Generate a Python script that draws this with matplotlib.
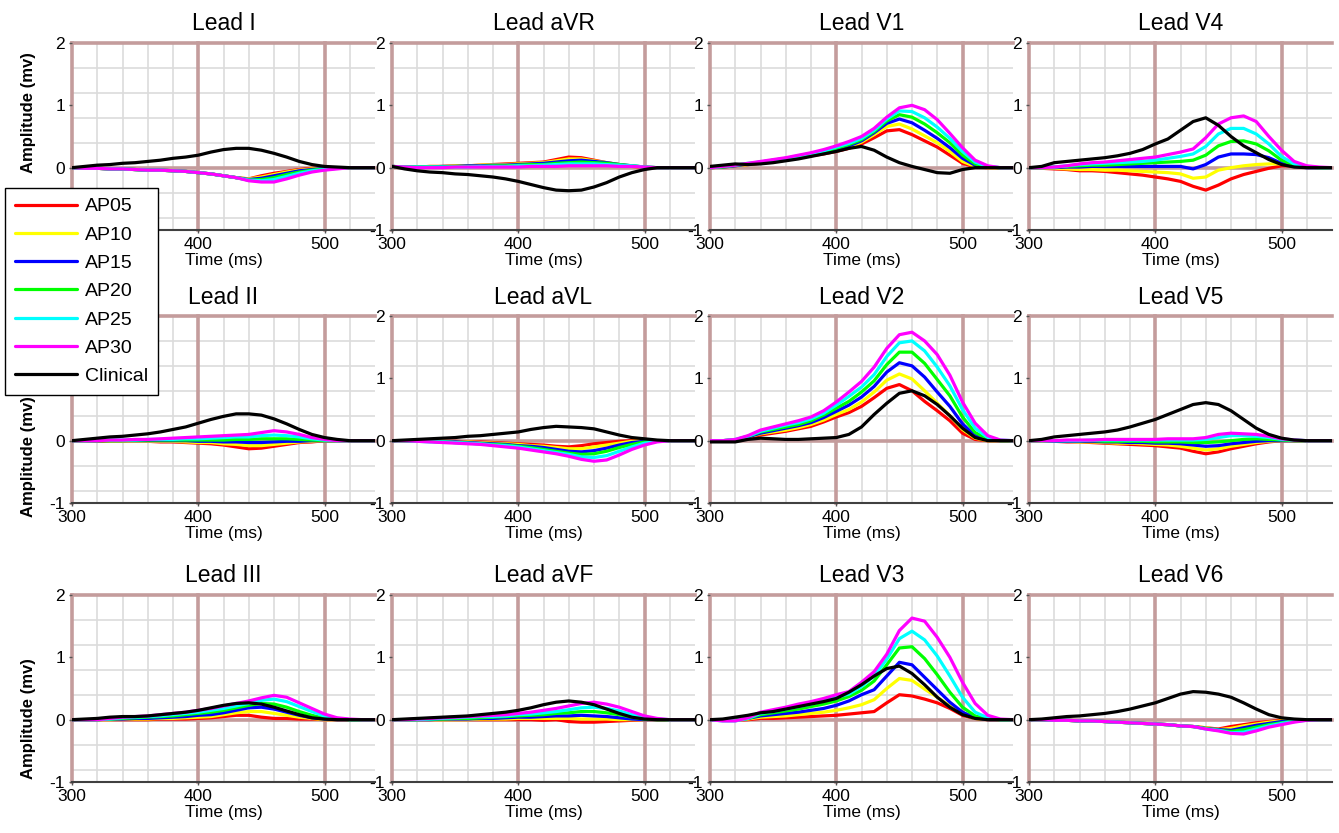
import matplotlib.pyplot as plt

plt.rcParams["font.family"] = ["Liberation Sans", "DejaVu Sans"]
plt.rcParams["axes.unicode_minus"] = False

# sample times (ms)
time_ms = [300, 310, 320, 330, 340, 350, 360, 370, 380, 390, 400, 410, 420,
           430, 440, 450, 460, 470, 480, 490, 500, 510, 520, 530, 540]

series = ["AP05", "AP10", "AP15", "AP20", "AP25", "AP30", "Clinical"]
colors = ["#ff0000", "#ffff00", "#0000ff", "#00ff00", "#00ffff", "#ff00ff", "#000000"]

# amplitudes (mV), one row per series in the order of `series`
lead_I = [
    [0, -0.01, -0.01, -0.02, -0.02, -0.03, -0.04, -0.04, -0.05, -0.06, -0.08, -0.1, -0.13, -0.16, -0.18, -0.13, -0.09, -0.06, -0.03, -0.01, 0, 0, 0, 0, 0],
    [0, -0.01, -0.01, -0.02, -0.02, -0.03, -0.04, -0.04, -0.05, -0.06, -0.08, -0.1, -0.13, -0.16, -0.18, -0.15, -0.11, -0.07, -0.04, -0.02, -0.01, 0, 0, 0, 0],
    [0, -0.01, -0.01, -0.02, -0.02, -0.03, -0.04, -0.04, -0.05, -0.06, -0.08, -0.1, -0.13, -0.16, -0.19, -0.17, -0.13, -0.09, -0.05, -0.03, -0.01, 0, 0, 0, 0],
    [0, -0.01, -0.01, -0.02, -0.02, -0.03, -0.04, -0.04, -0.05, -0.06, -0.08, -0.1, -0.13, -0.16, -0.2, -0.19, -0.16, -0.11, -0.07, -0.04, -0.02, -0.01, 0, 0, 0],
    [0, -0.01, -0.01, -0.02, -0.02, -0.03, -0.04, -0.04, -0.05, -0.06, -0.08, -0.1, -0.13, -0.16, -0.2, -0.21, -0.19, -0.14, -0.09, -0.05, -0.03, -0.01, 0, 0, 0],
    [0, -0.01, -0.01, -0.02, -0.02, -0.03, -0.04, -0.04, -0.05, -0.06, -0.08, -0.1, -0.13, -0.16, -0.21, -0.23, -0.23, -0.18, -0.12, -0.07, -0.04, -0.02, 0, 0, 0],
    [0, 0.02, 0.04, 0.05, 0.07, 0.08, 0.1, 0.12, 0.15, 0.17, 0.2, 0.25, 0.29, 0.31, 0.31, 0.28, 0.23, 0.17, 0.1, 0.05, 0.02, 0.01, 0, 0, 0],
]
lead_aVR = [
    [0.02, 0.01, 0.01, 0.02, 0.02, 0.03, 0.03, 0.04, 0.05, 0.06, 0.07, 0.08, 0.09, 0.13, 0.17, 0.16, 0.12, 0.08, 0.05, 0.02, 0, 0, 0, 0, 0],
    [0.02, 0.01, 0.01, 0.02, 0.02, 0.03, 0.03, 0.04, 0.05, 0.05, 0.06, 0.07, 0.08, 0.11, 0.14, 0.14, 0.11, 0.08, 0.05, 0.02, 0.01, 0, 0, 0, 0],
    [0.02, 0.01, 0.01, 0.01, 0.02, 0.02, 0.03, 0.03, 0.04, 0.04, 0.05, 0.06, 0.07, 0.09, 0.11, 0.12, 0.1, 0.08, 0.05, 0.03, 0.01, 0, 0, 0, 0],
    [0.02, 0.01, 0.01, 0.01, 0.01, 0.02, 0.02, 0.02, 0.03, 0.03, 0.04, 0.05, 0.05, 0.07, 0.08, 0.09, 0.08, 0.07, 0.05, 0.03, 0.01, 0, 0, 0, 0],
    [0.02, 0.01, 0.01, 0.01, 0.01, 0.01, 0.01, 0.02, 0.02, 0.02, 0.03, 0.03, 0.04, 0.05, 0.06, 0.06, 0.06, 0.05, 0.04, 0.03, 0.01, 0, 0, 0, 0],
    [0.02, 0.01, 0, 0, 0, 0.01, 0.01, 0.01, 0.01, 0.01, 0.01, 0.02, 0.02, 0.02, 0.03, 0.03, 0.03, 0.03, 0.02, 0.02, 0.01, 0, 0, 0, 0],
    [0.02, -0.02, -0.05, -0.07, -0.08, -0.1, -0.11, -0.13, -0.15, -0.18, -0.22, -0.27, -0.32, -0.36, -0.37, -0.36, -0.31, -0.24, -0.15, -0.08, -0.03, 0, 0, 0, 0],
]
lead_V1 = [
    [0, 0.01, 0.03, 0.05, 0.07, 0.1, 0.13, 0.16, 0.19, 0.22, 0.26, 0.31, 0.38, 0.48, 0.59, 0.61, 0.53, 0.43, 0.33, 0.2, 0.07, 0.01, 0, 0, 0],
    [0, 0.01, 0.03, 0.05, 0.08, 0.1, 0.13, 0.16, 0.2, 0.23, 0.27, 0.33, 0.41, 0.53, 0.66, 0.7, 0.62, 0.51, 0.4, 0.26, 0.1, 0.02, 0, 0, 0],
    [0, 0.01, 0.03, 0.06, 0.08, 0.11, 0.14, 0.17, 0.21, 0.25, 0.29, 0.35, 0.43, 0.56, 0.71, 0.78, 0.72, 0.6, 0.47, 0.32, 0.15, 0.04, 0.01, 0, 0],
    [0, 0.01, 0.04, 0.06, 0.09, 0.12, 0.15, 0.18, 0.22, 0.26, 0.31, 0.37, 0.45, 0.58, 0.75, 0.85, 0.81, 0.7, 0.56, 0.4, 0.2, 0.06, 0.01, 0, 0],
    [0, 0.02, 0.04, 0.07, 0.09, 0.12, 0.15, 0.19, 0.23, 0.27, 0.33, 0.39, 0.47, 0.6, 0.78, 0.91, 0.9, 0.8, 0.65, 0.47, 0.26, 0.09, 0.02, 0, 0],
    [0, 0.02, 0.04, 0.07, 0.1, 0.13, 0.16, 0.2, 0.24, 0.29, 0.35, 0.42, 0.5, 0.63, 0.81, 0.96, 1.0, 0.93, 0.77, 0.55, 0.32, 0.12, 0.03, 0, 0],
    [0.02, 0.04, 0.06, 0.05, 0.06, 0.08, 0.11, 0.14, 0.18, 0.22, 0.26, 0.31, 0.34, 0.28, 0.17, 0.08, 0.02, -0.03, -0.08, -0.09, -0.03, 0, 0, 0, 0],
]
lead_V4 = [
    [0, -0.01, -0.02, -0.03, -0.05, -0.05, -0.06, -0.08, -0.1, -0.12, -0.15, -0.18, -0.22, -0.3, -0.36, -0.28, -0.18, -0.11, -0.06, -0.01, 0.03, 0.03, 0.01, 0, 0],
    [0, -0.01, -0.01, -0.02, -0.03, -0.03, -0.04, -0.04, -0.05, -0.06, -0.07, -0.08, -0.1, -0.17, -0.15, -0.04, 0, 0.03, 0.05, 0.06, 0.06, 0.03, 0.01, 0, 0],
    [0, 0, 0, 0.01, 0.01, 0.02, 0.02, 0.02, 0.02, 0.02, 0.02, 0.02, 0.02, -0.02, 0.05, 0.17, 0.22, 0.22, 0.21, 0.16, 0.07, 0.02, 0, 0, 0],
    [0, 0, 0.01, 0.02, 0.03, 0.04, 0.04, 0.05, 0.06, 0.07, 0.08, 0.09, 0.1, 0.12, 0.2, 0.35, 0.42, 0.43, 0.38, 0.27, 0.12, 0.04, 0.01, 0, 0],
    [0, 0, 0.01, 0.03, 0.05, 0.06, 0.07, 0.08, 0.09, 0.1, 0.12, 0.15, 0.18, 0.22, 0.34, 0.54, 0.63, 0.63, 0.54, 0.38, 0.18, 0.06, 0.01, 0, 0],
    [0, 0, 0.01, 0.03, 0.06, 0.08, 0.09, 0.11, 0.13, 0.15, 0.17, 0.21, 0.25, 0.3, 0.48, 0.7, 0.8, 0.83, 0.74, 0.5, 0.28, 0.1, 0.03, 0.01, 0],
    [0, 0.02, 0.08, 0.1, 0.12, 0.14, 0.16, 0.19, 0.23, 0.29, 0.38, 0.46, 0.6, 0.74, 0.8, 0.68, 0.5, 0.35, 0.24, 0.13, 0.05, 0.01, 0, 0, 0],
]
lead_II = [
    [0, 0, -0.01, -0.01, -0.01, -0.01, -0.01, -0.02, -0.02, -0.03, -0.04, -0.05, -0.07, -0.1, -0.13, -0.12, -0.09, -0.06, -0.03, -0.02, 0, 0, 0, 0, 0],
    [0, 0, 0, -0.01, -0.01, -0.01, -0.01, -0.01, -0.01, -0.02, -0.03, -0.03, -0.05, -0.06, -0.08, -0.08, -0.06, -0.04, -0.02, -0.01, 0, 0, 0, 0, 0],
    [0, 0, 0, 0, 0, 0, 0, 0, 0, 0, -0.01, -0.01, -0.02, -0.02, -0.03, -0.03, -0.02, -0.01, -0.01, 0, 0, 0, 0, 0, 0],
    [0, 0, 0, 0, 0, 0.01, 0.01, 0.01, 0.01, 0.01, 0.01, 0.01, 0.01, 0.02, 0.02, 0.03, 0.03, 0.03, 0.02, 0.01, 0, 0, 0, 0, 0],
    [0, 0, 0, 0.01, 0.01, 0.01, 0.02, 0.02, 0.02, 0.03, 0.03, 0.04, 0.05, 0.06, 0.06, 0.08, 0.09, 0.08, 0.06, 0.03, 0.01, 0, 0, 0, 0],
    [0, 0, 0, 0.01, 0.01, 0.02, 0.02, 0.03, 0.04, 0.05, 0.06, 0.07, 0.08, 0.09, 0.1, 0.13, 0.16, 0.14, 0.1, 0.05, 0.02, 0, 0, 0, 0],
    [0, 0.02, 0.04, 0.06, 0.07, 0.09, 0.11, 0.14, 0.18, 0.22, 0.28, 0.34, 0.39, 0.43, 0.43, 0.41, 0.35, 0.27, 0.18, 0.1, 0.05, 0.02, 0, 0, 0],
]
lead_aVL = [
    [0, 0, 0, -0.01, -0.01, -0.01, -0.02, -0.02, -0.03, -0.04, -0.05, -0.06, -0.07, -0.09, -0.1, -0.08, -0.05, -0.03, -0.01, 0, 0, 0, 0, 0, 0],
    [0, 0, -0.01, -0.01, -0.01, -0.02, -0.02, -0.03, -0.04, -0.05, -0.06, -0.08, -0.09, -0.11, -0.13, -0.13, -0.1, -0.07, -0.04, -0.01, 0, 0, 0, 0, 0],
    [0, 0, -0.01, -0.01, -0.02, -0.02, -0.03, -0.04, -0.05, -0.06, -0.08, -0.09, -0.11, -0.14, -0.17, -0.18, -0.16, -0.12, -0.07, -0.03, -0.01, 0, 0, 0, 0],
    [0, 0, -0.01, -0.01, -0.02, -0.03, -0.04, -0.05, -0.06, -0.07, -0.09, -0.11, -0.14, -0.17, -0.2, -0.22, -0.21, -0.17, -0.11, -0.06, -0.02, 0, 0, 0, 0],
    [0, 0, -0.01, -0.02, -0.02, -0.03, -0.04, -0.05, -0.07, -0.08, -0.1, -0.13, -0.16, -0.19, -0.22, -0.26, -0.27, -0.24, -0.17, -0.1, -0.04, -0.01, 0, 0, 0],
    [0, 0, -0.01, -0.02, -0.03, -0.04, -0.05, -0.06, -0.08, -0.1, -0.12, -0.15, -0.18, -0.21, -0.25, -0.3, -0.33, -0.31, -0.23, -0.14, -0.07, -0.02, 0, 0, 0],
    [0, 0.01, 0.02, 0.03, 0.04, 0.05, 0.07, 0.08, 0.1, 0.12, 0.14, 0.18, 0.21, 0.23, 0.22, 0.21, 0.19, 0.14, 0.09, 0.05, 0.03, 0.01, 0, 0, 0],
]
lead_V2 = [
    [0, 0, 0.01, 0.05, 0.09, 0.12, 0.15, 0.19, 0.23, 0.3, 0.38, 0.45, 0.55, 0.69, 0.84, 0.9, 0.8, 0.63, 0.48, 0.32, 0.12, 0.02, 0, 0, 0],
    [0, 0, 0.01, 0.06, 0.11, 0.14, 0.17, 0.21, 0.26, 0.33, 0.42, 0.5, 0.62, 0.78, 0.97, 1.07, 0.99, 0.8, 0.6, 0.4, 0.18, 0.04, 0, 0, 0],
    [0, 0, 0.01, 0.06, 0.12, 0.16, 0.2, 0.24, 0.29, 0.37, 0.47, 0.57, 0.7, 0.87, 1.1, 1.25, 1.2, 1.02, 0.78, 0.55, 0.27, 0.08, 0.01, 0, 0],
    [0, 0, 0.01, 0.07, 0.14, 0.18, 0.22, 0.26, 0.32, 0.41, 0.52, 0.63, 0.78, 0.96, 1.22, 1.42, 1.42, 1.24, 0.98, 0.72, 0.38, 0.13, 0.03, 0, 0],
    [0, 0, 0.02, 0.07, 0.15, 0.2, 0.25, 0.29, 0.35, 0.44, 0.57, 0.71, 0.86, 1.06, 1.35, 1.57, 1.6, 1.44, 1.18, 0.88, 0.5, 0.2, 0.05, 0.01, 0],
    [0, 0, 0.02, 0.08, 0.17, 0.22, 0.27, 0.32, 0.38, 0.48, 0.62, 0.78, 0.95, 1.18, 1.48, 1.7, 1.74, 1.6, 1.38, 1.05, 0.62, 0.28, 0.08, 0.01, 0],
    [-0.02, -0.02, -0.02, 0.02, 0.04, 0.03, 0.02, 0.02, 0.03, 0.04, 0.05, 0.1, 0.22, 0.42, 0.6, 0.76, 0.8, 0.72, 0.58, 0.4, 0.2, 0.05, 0, 0, 0],
]
lead_V5 = [
    [0, -0.01, -0.01, -0.02, -0.02, -0.03, -0.04, -0.05, -0.06, -0.07, -0.08, -0.1, -0.12, -0.17, -0.21, -0.18, -0.13, -0.09, -0.05, -0.02, 0, 0, 0, 0, 0],
    [0, -0.01, -0.01, -0.01, -0.02, -0.02, -0.03, -0.04, -0.04, -0.05, -0.06, -0.07, -0.09, -0.12, -0.15, -0.13, -0.09, -0.06, -0.03, -0.01, 0, 0, 0, 0, 0],
    [0, 0, -0.01, -0.01, -0.01, -0.01, -0.02, -0.02, -0.03, -0.03, -0.04, -0.04, -0.05, -0.07, -0.09, -0.08, -0.05, -0.03, -0.01, 0, 0, 0, 0, 0, 0],
    [0, 0, 0, 0, 0, 0, -0.01, -0.01, -0.01, -0.01, -0.02, -0.02, -0.02, -0.03, -0.03, -0.02, 0, 0.02, 0.03, 0.02, 0.01, 0, 0, 0, 0],
    [0, 0, 0, 0, 0, 0.01, 0.01, 0.01, 0.01, 0.01, 0.01, 0.01, 0.01, 0.01, 0.02, 0.05, 0.08, 0.08, 0.07, 0.05, 0.02, 0.01, 0, 0, 0],
    [0, 0, 0, 0.01, 0.01, 0.01, 0.02, 0.02, 0.02, 0.02, 0.02, 0.03, 0.03, 0.03, 0.05, 0.1, 0.12, 0.11, 0.1, 0.07, 0.03, 0.01, 0, 0, 0],
    [0, 0.02, 0.06, 0.08, 0.1, 0.12, 0.14, 0.17, 0.22, 0.28, 0.34, 0.42, 0.5, 0.58, 0.61, 0.58, 0.48, 0.34, 0.2, 0.1, 0.04, 0.01, 0, 0, 0],
]
lead_III = [
    [0, 0, 0, 0, 0, 0, 0, 0.01, 0.01, 0.01, 0.02, 0.03, 0.05, 0.07, 0.07, 0.04, 0.02, 0.02, 0.01, 0.01, 0, 0, 0, 0, 0],
    [0, 0, 0, 0, 0.01, 0.01, 0.01, 0.02, 0.02, 0.03, 0.04, 0.05, 0.08, 0.11, 0.13, 0.13, 0.1, 0.07, 0.04, 0.02, 0, 0, 0, 0, 0],
    [0, 0, 0, 0.01, 0.01, 0.02, 0.02, 0.03, 0.04, 0.05, 0.07, 0.08, 0.11, 0.15, 0.19, 0.2, 0.17, 0.12, 0.07, 0.03, 0.01, 0, 0, 0, 0],
    [0, 0, 0, 0.01, 0.02, 0.03, 0.04, 0.05, 0.06, 0.08, 0.1, 0.12, 0.15, 0.19, 0.23, 0.26, 0.25, 0.2, 0.13, 0.07, 0.02, 0.01, 0, 0, 0],
    [0, 0, 0, 0.01, 0.03, 0.04, 0.05, 0.06, 0.08, 0.1, 0.12, 0.15, 0.18, 0.22, 0.26, 0.31, 0.33, 0.29, 0.21, 0.13, 0.06, 0.02, 0, 0, 0],
    [0, 0, 0, 0.02, 0.04, 0.05, 0.06, 0.08, 0.1, 0.12, 0.15, 0.18, 0.22, 0.26, 0.3, 0.35, 0.39, 0.36, 0.27, 0.18, 0.09, 0.03, 0.01, 0, 0],
    [0, 0.01, 0.02, 0.04, 0.05, 0.05, 0.06, 0.08, 0.1, 0.12, 0.15, 0.19, 0.23, 0.26, 0.27, 0.25, 0.2, 0.14, 0.08, 0.03, 0.01, 0, 0, 0, 0],
]
lead_aVF = [
    [0, 0, 0, 0, 0, 0, 0, 0, 0, 0, 0, 0, -0.01, 0, -0.03, -0.04, -0.04, -0.03, -0.02, -0.01, 0, 0, 0, 0, 0],
    [0, 0, 0, 0, 0, 0, 0, 0.01, 0.01, 0.01, 0.02, 0.02, 0.02, 0.02, 0.02, 0.01, 0.01, 0.01, 0, 0, 0, 0, 0, 0, 0],
    [0, 0, 0, 0, 0.01, 0.01, 0.01, 0.02, 0.02, 0.03, 0.04, 0.04, 0.05, 0.06, 0.06, 0.07, 0.06, 0.05, 0.03, 0.01, 0, 0, 0, 0, 0],
    [0, 0, 0, 0.01, 0.01, 0.02, 0.02, 0.03, 0.04, 0.05, 0.06, 0.07, 0.08, 0.1, 0.11, 0.13, 0.13, 0.11, 0.08, 0.04, 0.01, 0, 0, 0, 0],
    [0, 0, 0, 0.01, 0.02, 0.03, 0.04, 0.05, 0.05, 0.06, 0.08, 0.09, 0.11, 0.13, 0.16, 0.19, 0.2, 0.18, 0.14, 0.08, 0.03, 0.01, 0, 0, 0],
    [0, 0, 0.01, 0.02, 0.03, 0.04, 0.05, 0.06, 0.07, 0.08, 0.1, 0.12, 0.15, 0.18, 0.22, 0.26, 0.28, 0.25, 0.2, 0.13, 0.06, 0.02, 0, 0, 0],
    [0, 0.01, 0.02, 0.03, 0.04, 0.05, 0.06, 0.08, 0.1, 0.12, 0.15, 0.19, 0.24, 0.28, 0.3, 0.28, 0.24, 0.17, 0.1, 0.04, 0.01, 0, 0, 0, 0],
]
lead_V3 = [
    [0, -0.01, -0.01, 0, 0.02, 0.02, 0.03, 0.04, 0.05, 0.06, 0.07, 0.09, 0.11, 0.13, 0.27, 0.4, 0.38, 0.33, 0.27, 0.18, 0.07, 0.02, 0, 0, 0],
    [0, -0.01, -0.01, 0.01, 0.04, 0.05, 0.06, 0.08, 0.1, 0.12, 0.15, 0.19, 0.24, 0.32, 0.5, 0.66, 0.63, 0.49, 0.36, 0.22, 0.09, 0.02, 0, 0, 0],
    [0, -0.01, -0.01, 0.02, 0.06, 0.08, 0.1, 0.12, 0.15, 0.18, 0.23, 0.3, 0.4, 0.48, 0.7, 0.92, 0.88, 0.68, 0.48, 0.28, 0.12, 0.03, 0, 0, 0],
    [0, -0.01, -0.01, 0.02, 0.08, 0.11, 0.14, 0.17, 0.21, 0.25, 0.3, 0.37, 0.47, 0.62, 0.88, 1.15, 1.17, 0.98, 0.72, 0.44, 0.2, 0.06, 0.01, 0, 0],
    [0, -0.02, -0.02, 0.02, 0.1, 0.13, 0.17, 0.21, 0.25, 0.3, 0.36, 0.41, 0.53, 0.7, 0.97, 1.3, 1.42, 1.28, 1.02, 0.7, 0.36, 0.12, 0.03, 0, 0],
    [0, -0.02, -0.02, 0.03, 0.12, 0.16, 0.2, 0.25, 0.29, 0.34, 0.4, 0.45, 0.6, 0.77, 1.05, 1.43, 1.63, 1.58, 1.32, 1.0, 0.6, 0.26, 0.07, 0.01, 0],
    [0, 0.01, 0.04, 0.07, 0.11, 0.13, 0.17, 0.21, 0.25, 0.29, 0.34, 0.44, 0.56, 0.7, 0.82, 0.86, 0.74, 0.56, 0.36, 0.2, 0.08, 0.02, 0, 0, 0],
]
lead_V6 = [
    [0, 0, -0.01, -0.01, -0.02, -0.02, -0.03, -0.04, -0.05, -0.06, -0.07, -0.08, -0.1, -0.11, -0.13, -0.15, -0.11, -0.08, -0.05, -0.03, -0.01, 0, 0, 0, 0],
    [0, 0, -0.01, -0.01, -0.02, -0.02, -0.03, -0.04, -0.05, -0.06, -0.07, -0.08, -0.1, -0.11, -0.13, -0.16, -0.14, -0.1, -0.07, -0.04, -0.02, 0, 0, 0, 0],
    [0, 0, -0.01, -0.01, -0.02, -0.02, -0.03, -0.04, -0.05, -0.06, -0.07, -0.08, -0.1, -0.11, -0.14, -0.16, -0.17, -0.13, -0.09, -0.06, -0.03, -0.01, 0, 0, 0],
    [0, 0, -0.01, -0.01, -0.02, -0.02, -0.03, -0.04, -0.05, -0.06, -0.07, -0.08, -0.1, -0.11, -0.14, -0.17, -0.19, -0.16, -0.12, -0.08, -0.05, -0.02, 0, 0, 0],
    [0, 0, -0.01, -0.01, -0.02, -0.02, -0.03, -0.04, -0.05, -0.06, -0.07, -0.08, -0.1, -0.11, -0.15, -0.17, -0.21, -0.2, -0.15, -0.1, -0.06, -0.03, -0.01, 0, 0],
    [0, 0, -0.01, -0.01, -0.02, -0.02, -0.03, -0.04, -0.05, -0.06, -0.07, -0.08, -0.1, -0.11, -0.15, -0.18, -0.22, -0.23, -0.18, -0.12, -0.08, -0.04, -0.01, 0, 0],
    [0, 0.01, 0.03, 0.05, 0.06, 0.08, 0.1, 0.13, 0.17, 0.22, 0.27, 0.34, 0.41, 0.45, 0.44, 0.41, 0.36, 0.27, 0.17, 0.08, 0.03, 0.01, 0, 0, 0],
]

titles = ["Lead I", "Lead aVR", "Lead V1", "Lead V4",
          "Lead II", "Lead aVL", "Lead V2", "Lead V5",
          "Lead III", "Lead aVF", "Lead V3", "Lead V6"]
lead_data = [lead_I, lead_aVR, lead_V1, lead_V4,
             lead_II, lead_aVL, lead_V2, lead_V5,
             lead_III, lead_aVF, lead_V3, lead_V6]

W, H = 1339, 833
fig = plt.figure(figsize=(W / 100, H / 100), dpi=100)

col_left = [72, 392, 710, 1029]
row_top = [43, 316, 595]
ax_w, ax_h = 303, 187
ylabel_y = [0.63, 0.25, 0.34]   # y-label centre per row (axes fraction)

major_col = "#c49c9c"
minor_col = "#dcdcdc"

handles = None
for k, (title, data) in enumerate(zip(titles, lead_data)):
    r, c = divmod(k, 4)
    ax = fig.add_axes([col_left[c] / W, 1 - (row_top[r] + ax_h) / H, ax_w / W, ax_h / H])

    # ECG style grid
    for x in range(320, 540, 20):
        if x not in (400, 500):
            ax.axvline(x, color=minor_col, lw=1.2, zorder=0)
    for y in [-0.8, -0.4, 0.4, 0.8, 1.2, 1.6]:
        ax.axhline(y, color=minor_col, lw=1.2, zorder=0)
    for x in (300, 400, 500):
        ax.axvline(x, color=major_col, lw=2.6, zorder=1, clip_on=False)
    for y in (0, 2):
        ax.axhline(y, color=major_col, lw=2.6, zorder=1, clip_on=False)

    lines = []
    for vals, col, name in zip(data, colors, series):
        ln, = ax.plot(time_ms, vals, color=col, lw=2.3, label=name, zorder=3,
                      solid_joinstyle="round", solid_capstyle="round")
        lines.append(ln)
    if handles is None:
        handles = lines

    ax.set_xlim(300, 540)
    ax.set_ylim(-1, 2)
    ax.set_xticks([300, 400, 500])
    ax.set_yticks([-1, 0, 1, 2])
    ax.tick_params(labelsize=12.5, length=2, width=1, color="#555555", pad=3)
    for s in ("top", "right", "left"):
        ax.spines[s].set_visible(False)
    ax.spines["bottom"].set_color("#404040")
    ax.spines["bottom"].set_linewidth(1.5)

    ax.set_title(title, fontsize=16.5, pad=9)
    ax.set_xlabel("Time (ms)", fontsize=12.5, labelpad=1)
    if c == 0:
        ax.set_ylabel("Amplitude (mv)", fontsize=12, fontweight="bold")
        ax.yaxis.set_label_coords(-0.12, ylabel_y[r])

fig.legend(handles, series, loc="upper left", bbox_to_anchor=(5 / W, 1 - 188 / H),
           borderaxespad=0, fontsize=14, handlelength=3.2, handletextpad=0.4,
           labelspacing=0.55, borderpad=0.5, frameon=True, fancybox=False,
           edgecolor="black", framealpha=1)

fig.savefig("out.png", dpi=100)
